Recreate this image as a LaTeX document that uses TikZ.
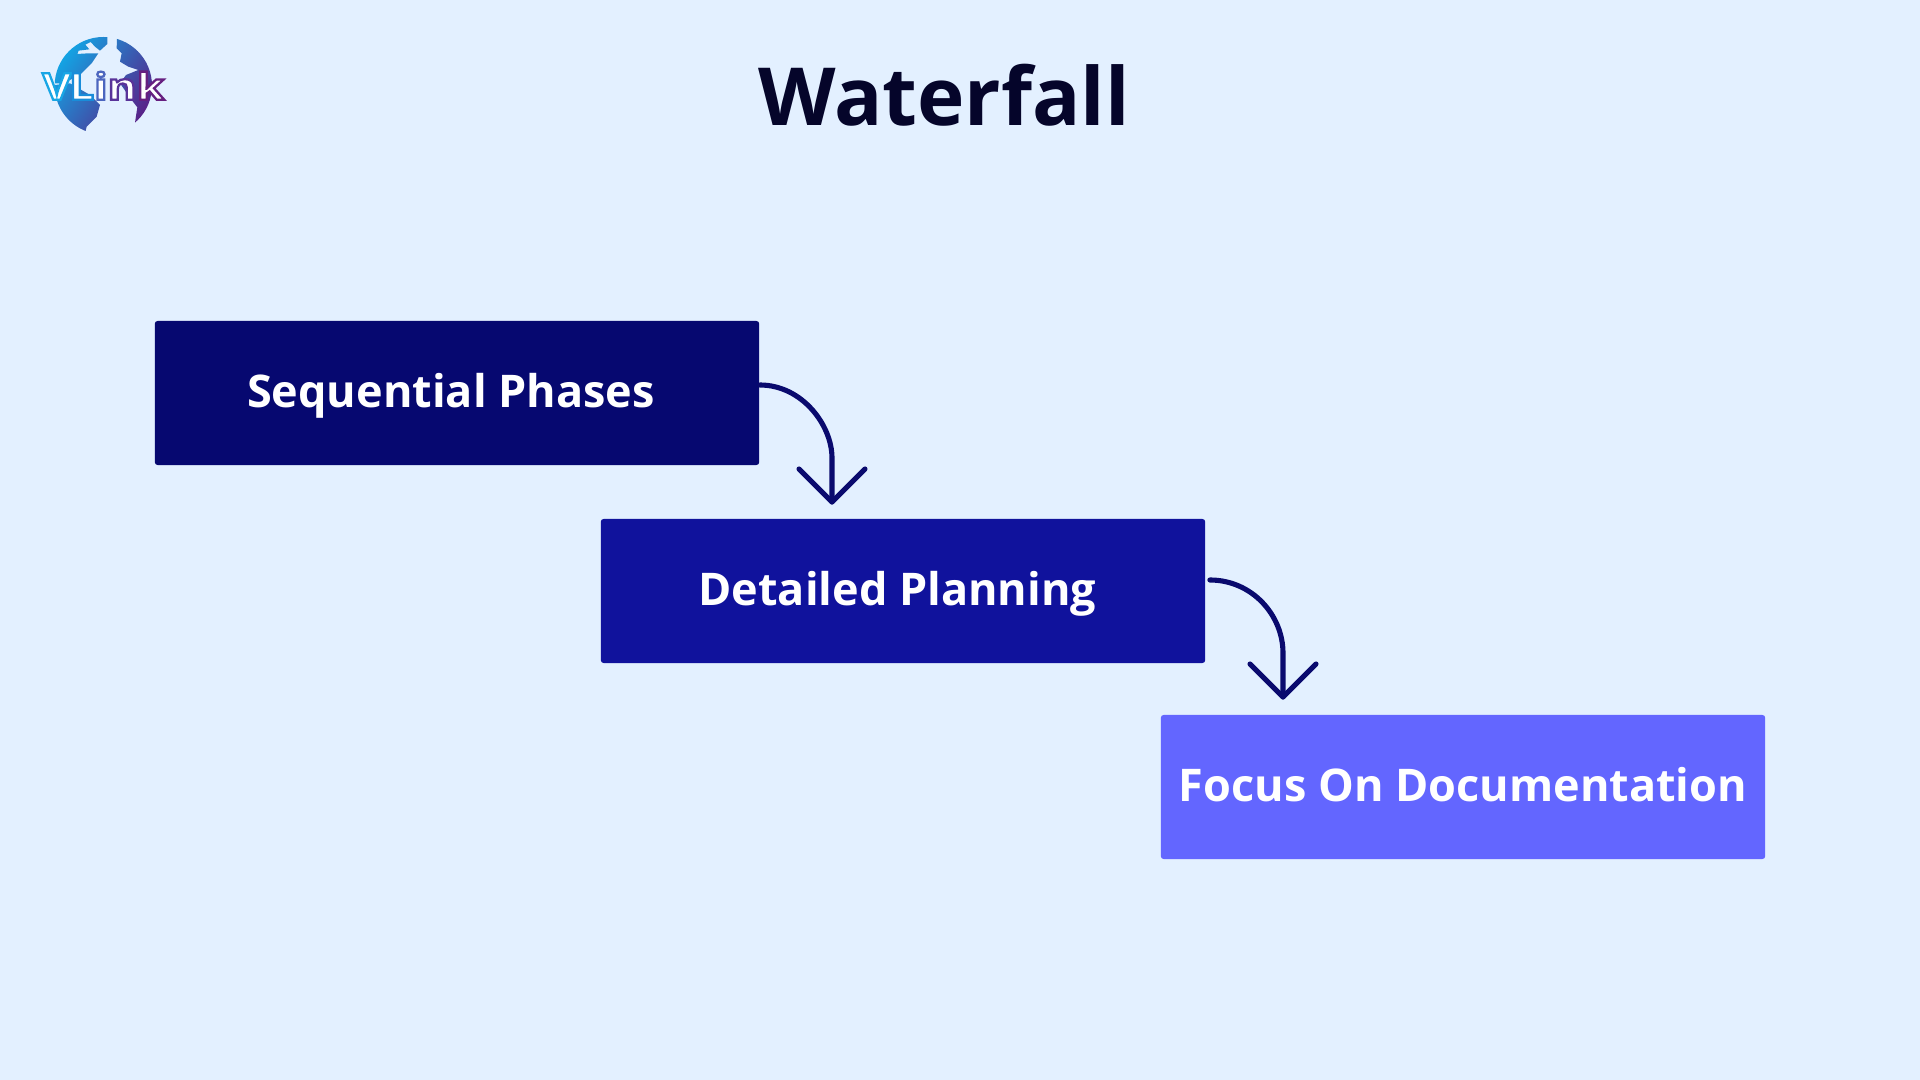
\documentclass[tikz,border=0pt]{standalone}
\usepackage{fontspec}
\setmainfont{Open Sans}
\newfontfamily\logofont[FakeStretch=1.2]{Open Sans}
\usetikzlibrary{calc}
\definecolor{bgc}{HTML}{E3F0FF}
\definecolor{boxa}{HTML}{060870}
\definecolor{boxb}{HTML}{10129C}
\definecolor{boxc}{HTML}{6366FF}
\definecolor{arrowc}{HTML}{0A0A6E}
\definecolor{titlec}{HTML}{05052A}
\definecolor{globea}{HTML}{12A5E5}
\definecolor{globeb}{HTML}{2C62AE}
\definecolor{globec}{HTML}{5A1F86}
\newcommand{\outl}[1]{\special{pdf:literal direct #1 RG 2 Tr 0.65 w}}
\tikzset{
  stage/.style={rectangle,rounded corners=0.8pt,minimum width=6.04cm,minimum height=1.44cm,inner sep=0pt,text=white,text height=11.5pt,text depth=3pt,font=\fontsize{12.8}{16}\selectfont\bfseries},
  flow/.style={draw=arrowc,line width=1.45pt,line cap=round,line join=round}
}
\begin{document}
\begin{tikzpicture}[x=0.01cm,y=-0.01cm]
\useasboundingbox (0,0) rectangle (1920,1080);
\fill[bgc] (0,0) rectangle (1920,1080);
% logo
\begin{scope}[shift={(20,20)},x=0.01cm/3,y=-0.01cm/3]
  \begin{scope}
    \clip (250,197) circle[radius=146];
    \clip (60,190) -- (60,20) -- (262,20) -- (262,72) -- (240,92) -- (225,80) -- (212,66) -- (196,74) -- (208,88) -- (176,92) -- (172,102) -- (205,100) -- (235,100) -- (215,130) -- (180,165) -- (130,190) -- cycle
      (292,20) -- (440,20) -- (440,360) -- (345,360) -- (345,308) -- (352,262) -- (335,240) -- (300,190) -- (318,165) -- (355,150) -- (325,140) -- (300,125) -- (305,100) -- (290,85) -- cycle
      (60,200) -- (150,190) -- (210,225) -- (240,255) -- (230,290) -- (200,320) -- (190,360) -- (60,360) -- cycle;
    \shade[shading=axis,left color=globea,middle color=globeb,right color=globec,shading angle=55] (100,45) rectangle (400,350);
  \end{scope}
  \node[inner sep=0pt,anchor=center,text=white] (logotext) at (250,197) {\logofont\fontsize{10.5}{12}\selectfont\bfseries\outl{0.1 0.65 0.9}V\kern-0.6pt\outl{0.1 0.55 0.85}L\outl{0.3 0.4 0.75}i\outl{0.35 0.2 0.6}n\outl{0.4 0.12 0.5}k\special{pdf:literal direct 0 Tr}};
\end{scope}
% title
\node[inner sep=0pt,text=titlec,font=\fontsize{22.8}{28}\selectfont\bfseries] (title) at (944,95) {Waterfall};
% stages
\node[stage,fill=boxa] (a) at (457,393) {\hspace*{-1.7pt}Sequential Phases\hspace*{1.7pt}};
\node[stage,fill=boxb] (b) at (903,591) {\hspace*{-1.6pt}Detailed Planning\hspace*{1.6pt}};
\node[stage,fill=boxc] (c) at (1463,787) {Focus On Documentation};
% connectors
\coordinate (t1) at (832,502);
\coordinate (t2) at (1283,697);
\draw[flow] ($(a.east)+(0,-8)$) .. controls ++(42,0) and (832,425) .. (832,458) -- (t1);
\draw[flow] ($(t1)+(-33,-33)$) -- (t1) -- ($(t1)+(33,-33)$);
\draw[flow] ($(b.east)+(4,-11)$) .. controls ++(42,0) and (1283,615) .. (1283,653) -- (t2);
\draw[flow] ($(t2)+(-33,-33)$) -- (t2) -- ($(t2)+(33,-33)$);
\end{tikzpicture}
\end{document}
